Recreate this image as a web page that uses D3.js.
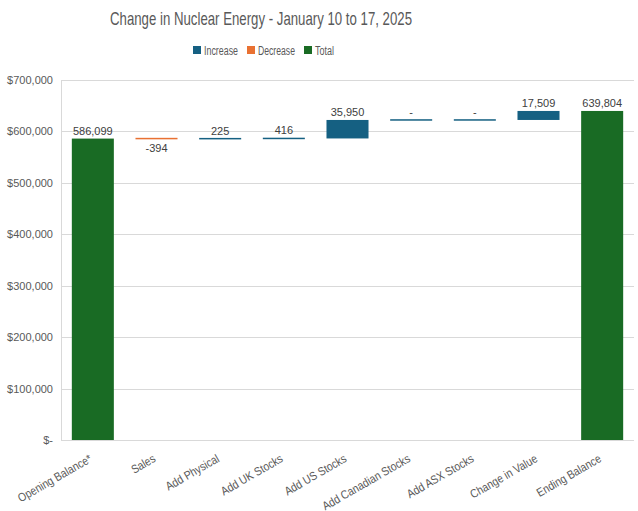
<!DOCTYPE html>
<html><head><meta charset="utf-8">
<script src="https://cdn.jsdelivr.net/npm/d3@7"></script>
<style>body{margin:0;background:#fff;}</style>
</head><body>
<svg id="c" width="638" height="511"></svg>
<script>
const categories = ["Opening Balance*","Sales","Add Physical","Add UK Stocks","Add US Stocks","Add  Canadian Stocks","Add ASX Stocks","Change in Value","Ending Balance"];
const values = [586099,-394,225,416,35950,0,0,17509,639804];
const kinds = ["total","decrease","increase","increase","increase","increase","increase","increase","total"];
const yTicks = [0,100000,200000,300000,400000,500000,600000,700000];
const legendItems = ["Increase","Decrease","Total"];
const colors = {increase:"#156082", decrease:"#E97132", total:"#196B24"};

const svg = d3.select("#c");
const m = {l:61, r:634, t:80, b:440};
const x = d3.scaleBand().domain(categories).range([m.l, m.r]).paddingInner(0.34).paddingOuter(0.17);
const y = d3.scaleLinear().domain([0,700000]).range([m.b, m.t]);
const narrow = "Liberation Sans, Arial, sans-serif";

// title
svg.append("text").attr("x",110).attr("y",25)
  .attr("font-family",narrow).attr("font-size",19)
  .attr("textLength",302).attr("lengthAdjust","spacingAndGlyphs")
  .attr("fill","#595959").text("Change in Nuclear Energy - January 10 to 17, 2025");

// legend
const lg = svg.append("g");
const lx = [193,247,304];
const lw = [34,37,19];
legendItems.forEach((t,i)=>{
  const k = t.toLowerCase();
  lg.append("rect").attr("x",lx[i]).attr("y",46).attr("width",8).attr("height",8).attr("fill",colors[k]);
  lg.append("text").attr("x",lx[i]+11).attr("y",54.5).attr("font-family",narrow)
    .attr("font-size",12.5).attr("textLength",lw[i]).attr("lengthAdjust","spacingAndGlyphs")
    .attr("fill","#595959").text(t);
});

// grid
svg.append("g").selectAll("line").data(yTicks).join("line")
  .attr("x1",m.l).attr("x2",m.r).attr("y1",d=>Math.round(y(d))+0.5).attr("y2",d=>Math.round(y(d))+0.5)
  .attr("stroke","#d9d9d9").attr("stroke-width",1);
svg.append("line").attr("x1",m.l+0.5).attr("x2",m.l+0.5).attr("y1",m.t).attr("y2",m.b).attr("stroke","#d9d9d9");

// y axis labels
const fmt = d3.format(",");
svg.append("g").selectAll("text").data(yTicks).join("text")
  .attr("x",53).attr("y",d=>y(d)+4).attr("text-anchor","end")
  .attr("font-family","Liberation Sans, Arial, sans-serif").attr("font-size",11).attr("fill","#595959")
  .text(d=> d===0 ? "$-" : "$"+fmt(d));

// compute waterfall
let cum = 0;
const bars = categories.map((c,i)=>{
  let y0,y1;
  if(kinds[i]==="total"){ y0=0; y1=values[i]; cum=values[i]; }
  else { y0=cum; y1=cum+values[i]; cum=y1; }
  return {c, v:values[i], k:kinds[i], lo:Math.min(y0,y1), hi:Math.max(y0,y1)};
});

svg.append("g").selectAll("rect").data(bars).join("rect")
  .attr("x",d=>x(d.c)).attr("width",x.bandwidth())
  .attr("y",d=>{const h=y(d.lo)-y(d.hi); return h<1.5? y(d.hi)-0.75 : y(d.hi);})
  .attr("height",d=>Math.max(1.5,y(d.lo)-y(d.hi)))
  .attr("fill",d=>colors[d.k]);

// data labels
svg.append("g").selectAll("text").data(bars).join("text")
  .attr("x",d=>x(d.c)+x.bandwidth()/2)
  .attr("y",d=> d.k==="decrease" ? y(d.lo)+13 : y(d.hi)-4)
  .attr("text-anchor","middle").attr("font-family","Liberation Sans, Arial, sans-serif")
  .attr("font-size",11).attr("fill","#404040")
  .text(d=> d.v===0 ? "-" : (d.v<0 ? "-"+fmt(-d.v) : fmt(d.v)));

// x labels
svg.append("g").selectAll("text").data(categories).join("text")
  .attr("transform",d=>`translate(${x(d)+x.bandwidth()/2},${m.b+21}) rotate(-30) scale(0.86,1)`)
  .attr("text-anchor","end").attr("font-family",narrow)
  .attr("font-size",12).attr("fill","#595959").text(d=>d);
</script>
</body></html>
